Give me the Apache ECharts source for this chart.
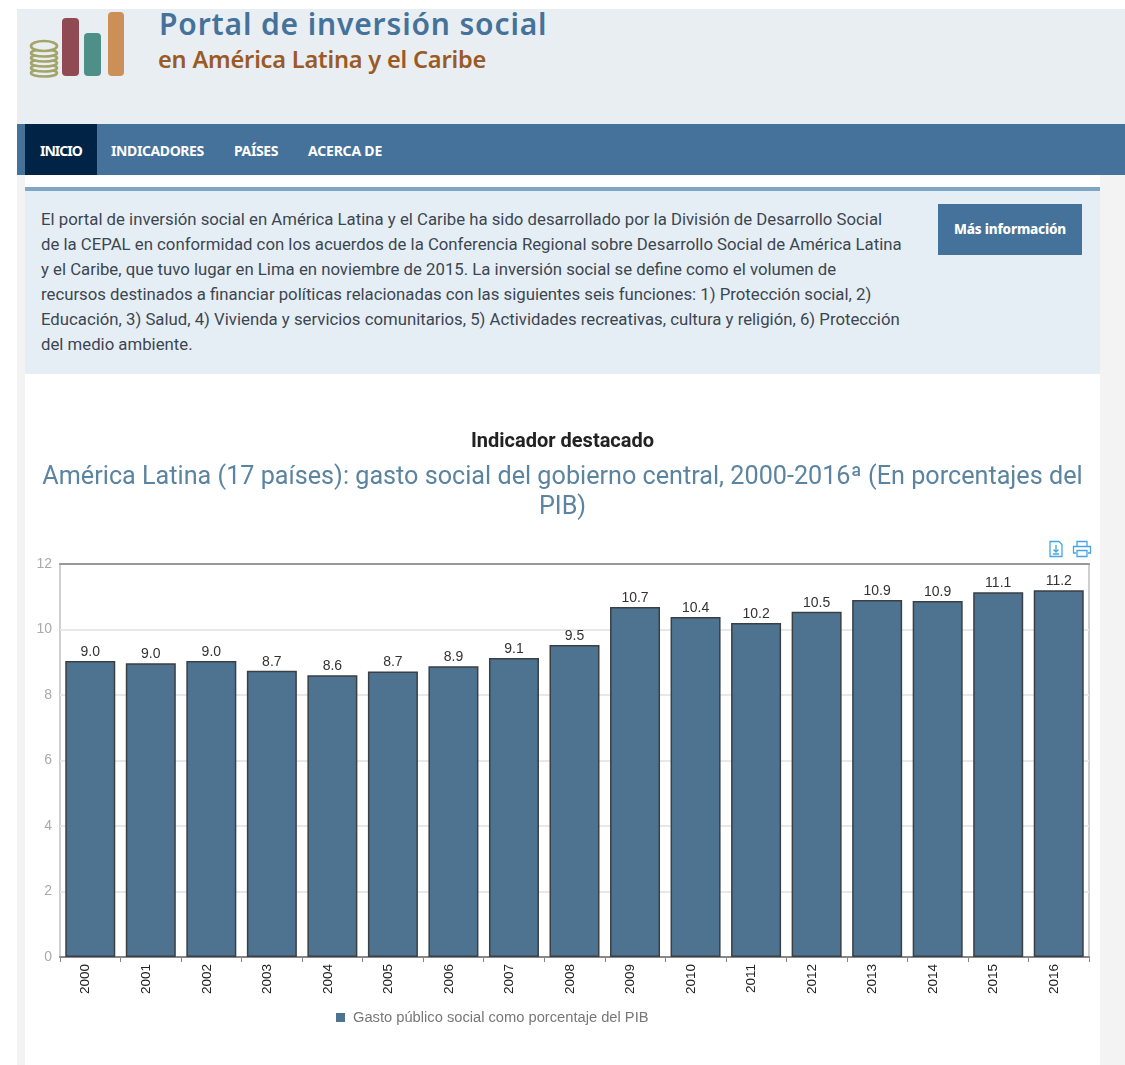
<!DOCTYPE html>
<html lang="es"><head><meta charset="utf-8">
<script src="https://cdn.jsdelivr.net/npm/echarts@6/dist/echarts.min.js"></script>
<style>
html,body{margin:0;padding:0;background:#fff;width:1125px;height:1065px;overflow:hidden}
.abs{position:absolute}
#chart{position:absolute;left:0;top:0;width:1125px;height:1065px}
.brand{font-family:"Noto Sans",sans-serif;white-space:nowrap}
.nav{position:absolute;top:124px;height:51px;color:#fff;font:700 14px/53px "Noto Sans",sans-serif;letter-spacing:-.4px;white-space:nowrap}
#info{position:absolute;left:41px;top:207px;font:16.75px/25px Roboto,sans-serif;color:#3c4650;white-space:nowrap}
</style></head><body>
<div class="abs" style="left:17px;top:175px;width:8px;height:890px;background:#f3f3f3"></div>
<div class="abs" style="left:1100px;top:175px;width:25px;height:890px;background:#f3f3f3"></div>
<div class="abs" style="left:17px;top:9px;width:1108px;height:115px;background:#e9eef3"></div>
<div class="abs" style="left:17px;top:124px;width:1108px;height:51px;background:#44729a"></div>
<div class="abs" style="left:25px;top:124px;width:72px;height:51px;background:#012345"></div>
<div class="nav" style="left:40px;letter-spacing:-1px">INICIO</div>
<div class="nav" style="left:111px">INDICADORES</div>
<div class="nav" style="left:234px">PAÍSES</div>
<div class="nav" style="left:308px;letter-spacing:-.2px">ACERCA DE</div>
<svg class="abs" style="left:25px;top:8px" width="105" height="72">
 <g fill="#e9eef3" stroke="#a3a468" stroke-width="2.6">
  <ellipse cx="19" cy="65" rx="13" ry="3.500"/><ellipse cx="19" cy="60" rx="13" ry="3.500"/><ellipse cx="19" cy="55" rx="13" ry="3.500"/><ellipse cx="19" cy="50" rx="13" ry="3.500"/><ellipse cx="19" cy="45" rx="13" ry="3.500"/><ellipse cx="19" cy="38" rx="13" ry="5"/>
 </g>
 <rect x="37" y="10" width="17" height="58" rx="4" fill="#8f4a54"/>
 <rect x="59" y="25" width="17" height="43" rx="4" fill="#4e8f88"/>
 <rect x="83" y="4" width="16" height="64" rx="4" fill="#cc8f58"/>
</svg>
<div class="abs brand" style="left:159px;top:4px;font-size:30px;line-height:40px;font-weight:600;color:#44729a;letter-spacing:.85px">Portal de inversión social</div>
<div class="abs brand" style="left:158px;top:42px;font-size:23.6px;line-height:34px;font-weight:600;color:#9a5a26;letter-spacing:-.2px">en América Latina y el Caribe</div>
<div class="abs" style="left:25px;top:187px;width:1075px;height:183px;background:#e6eef5;border-top:4px solid #7fa6c4"></div>
<div id="info">El portal de inversión social en América Latina y el Caribe ha sido desarrollado por la División de Desarrollo Social<br>de la CEPAL en conformidad con los acuerdos de la Conferencia Regional sobre Desarrollo Social de América Latina<br>y el Caribe, que tuvo lugar en Lima en noviembre de 2015. La inversión social se define como el volumen de<br>recursos destinados a financiar políticas relacionadas con las siguientes seis funciones: 1) Protección social, 2)<br>Educación, 3) Salud, 4) Vivienda y servicios comunitarios, 5) Actividades recreativas, cultura y religión, 6) Protección<br>del medio ambiente.</div>
<div class="abs" style="left:938px;top:204px;width:144px;height:51px;background:#44729a;color:#fff;font:800 13.5px/51px 'Noto Sans',sans-serif;text-align:center;letter-spacing:-.2px">Más información</div>
<div id="chart"></div>
<svg class="abs" style="left:1048px;top:540px" width="44" height="18" fill="none" stroke="#45a5e8" stroke-width="1.3">
 <path d="M2 1.500h9l3 3v12H2z"/><path d="M8 5v7M5.500 9.500L8 12l2.500-2.500M5 14h6"/>
 <path d="M29 6V1.500h10V6M28 13h-2.500V6.500h17V13H40M29 10.500h10v6H29z"/>
</svg>
<script>
const categories=["2000","2001","2002","2003","2004","2005","2006","2007","2008","2009","2010","2011","2012","2013","2014","2015","2016"];
const seriesName="Gasto público social como porcentaje del PIB";
const gastoSocial=[9.04,8.97,9.04,8.74,8.6,8.72,8.88,9.13,9.53,10.69,10.38,10.2,10.54,10.9,10.87,11.14,11.2];
const yTicks={min:0,max:12,interval:2};
const chart=echarts.init(document.getElementById('chart'),null,{renderer:'canvas'});
chart.setOption({
 animation:false,
 backgroundColor:'transparent',
 title:[
  {text:'Indicador destacado',left:557.5,top:427,textAlign:'center',textStyle:{fontFamily:'Roboto',fontWeight:'bold',fontSize:20,color:'#222',lineHeight:20}},
  {text:'América Latina (17 países): gasto social del gobierno central, 2000-2016ª (En porcentajes del\nPIB)',left:557.5,top:458,textAlign:'center',textStyle:{fontFamily:'Roboto',fontWeight:'normal',fontSize:25.2,color:'#5b84a0',lineHeight:30}}
 ],
 legend:{show:true,left:331,top:1005,itemWidth:9,itemHeight:9,itemGap:5,icon:'rect',
  itemStyle:{borderWidth:0},
  textStyle:{fontFamily:'Liberation Sans',fontSize:14.7,color:'#777',padding:[0,0,0,3]},data:[seriesName]},
 grid:{left:60,right:36,top:564,height:393,show:true,borderWidth:2,borderColor:'#cfcfcf',backgroundColor:'transparent'},
 xAxis:[{type:'category',data:categories,position:'bottom',
   axisLine:{lineStyle:{color:'#888',width:2}},
   axisTick:{show:true,alignWithLabel:false,length:5,lineStyle:{color:'#888',width:1}},
   axisLabel:{rotate:90,margin:7,verticalAlign:'bottom',lineHeight:9,fontFamily:'Liberation Sans',fontSize:13.5,color:'#222',interval:0}},
  {type:'category',data:categories,position:'top',axisLine:{lineStyle:{color:'#999',width:2}},axisTick:{show:false},axisLabel:{show:false}}],
 yAxis:{type:'value',min:yTicks.min,max:yTicks.max,interval:yTicks.interval,
  axisLine:{show:false},axisTick:{show:false},
  axisLabel:{margin:8,fontFamily:'Liberation Sans',fontSize:14,color:'#aaa'},
  splitLine:{show:true,lineStyle:{color:'#e8e8e8',width:2}}},
 series:[{name:seriesName,type:'bar',data:gastoSocial,barWidth:50,
  itemStyle:{color:'#4d7391',borderColor:'#3a3f44',borderWidth:1.5},
  label:{show:true,position:'top',distance:2,fontFamily:'Liberation Sans',fontSize:14,color:'#333',formatter:p=>p.value.toFixed(1)}}]
});
</script>
</body></html>
